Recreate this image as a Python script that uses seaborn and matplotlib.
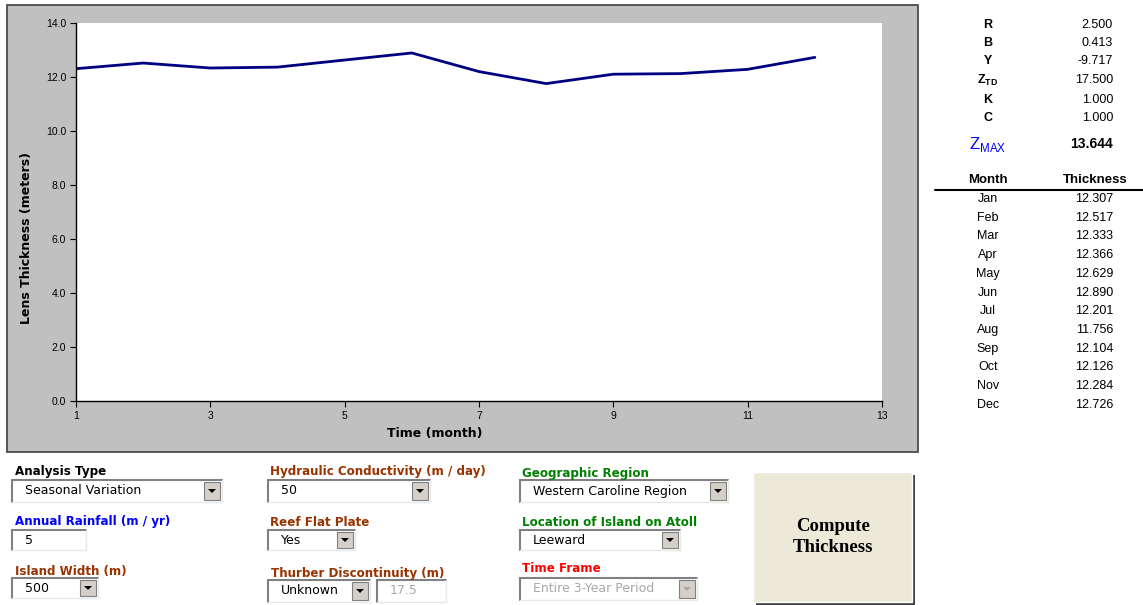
import matplotlib
matplotlib.use('Agg')
import matplotlib.pyplot as plt
import matplotlib.patches as mpatches
import seaborn as sns

W, H = 1143, 605

# chart data (thickness per month, meters)
month_num = [1, 2, 3, 4, 5, 6, 7, 8, 9, 10, 11, 12]
months = ['Jan', 'Feb', 'Mar', 'Apr', 'May', 'Jun', 'Jul', 'Aug', 'Sep', 'Oct', 'Nov', 'Dec']
thickness = [12.307, 12.517, 12.333, 12.366, 12.629, 12.890,
             12.201, 11.756, 12.104, 12.126, 12.284, 12.726]
x_ticks = [1, 3, 5, 7, 9, 11, 13]
y_ticks = [0, 2, 4, 6, 8, 10, 12, 14]

# model parameters shown on the right
param_labels = ['R', 'B', 'Y', r'Z$_{\mathregular{TD}}$', 'K', 'C']
param_values = ['2.500', '0.413', '-9.717', '17.500', '1.000', '1.000']
zmax_value = '13.644'

sns.set_theme(style='white')
plt.rcParams['font.family'] = ['Liberation Sans', 'DejaVu Sans']
plt.rcParams['text.color'] = 'black'
plt.rcParams['axes.labelcolor'] = 'black'
plt.rcParams['xtick.color'] = 'black'
plt.rcParams['ytick.color'] = 'black'


def fx(x):
    return x / W


def fy(y):
    return 1 - y / H


def rect(fig, x0, y0, x1, y1, **kw):
    r = mpatches.Rectangle((fx(x0), fy(y1)), (x1 - x0) / W, (y1 - y0) / H,
                           transform=fig.transFigure, **kw)
    fig.add_artist(r)
    return r


def hline(fig, x0, x1, y, **kw):
    fig.add_artist(plt.Line2D([fx(x0), fx(x1)], [fy(y), fy(y)], transform=fig.transFigure, **kw))


def vline(fig, x, y0, y1, **kw):
    fig.add_artist(plt.Line2D([fx(x), fx(x)], [fy(y0), fy(y1)], transform=fig.transFigure, **kw))


def sunken_box(fig, x0, y0, x1, y1):
    rect(fig, x0, y0, x1, y1, facecolor='white', edgecolor='none')
    hline(fig, x0, x1, y0, color='#808080', lw=1.5)
    vline(fig, x0, y0, y1, color='#808080', lw=1.5)
    hline(fig, x0, x1, y1, color='#E8E8E8', lw=1)
    vline(fig, x1, y0, y1, color='#E8E8E8', lw=1)


def combo(fig, x0, y0, x1, y1, text, disabled=False, button=True):
    sunken_box(fig, x0, y0, x1, y1)
    col = '#A8A8A8' if disabled else 'black'
    fig.text(fx(x0 + 13), fy((y0 + y1) / 2), text, fontsize=9, color=col,
             family='DejaVu Sans', va='center', ha='left')
    if button:
        bx0, bx1 = x1 - 18, x1 - 2
        rect(fig, bx0, y0 + 2, bx1, y1 - 2, facecolor='#D4D0C8',
             edgecolor='#808080', lw=0.8)
        cx, cy = (bx0 + bx1) / 2, (y0 + y1) / 2
        tri = mpatches.Polygon([(fx(cx - 4), fy(cy - 2)), (fx(cx + 4), fy(cy - 2)), (fx(cx), fy(cy + 2))],
                               closed=True, transform=fig.transFigure,
                               facecolor='#A8A8A8' if disabled else 'black', edgecolor='none')
        fig.add_artist(tri)


def label(fig, x, y, text, color):
    fig.text(fx(x), fy(y), text, fontsize=8.6, fontweight='bold', color=color,
             family='DejaVu Sans', va='center', ha='left')


fig = plt.figure(figsize=(W / 100, H / 100), dpi=100)
fig.patch.set_facecolor('white')

# grey chart panel
rect(fig, 7, 5, 918, 452, facecolor='#C0C0C0', edgecolor='#404040', lw=1.2, zorder=-1)

ax = fig.add_axes([fx(76), fy(401), (882 - 76) / W, (401 - 23) / H])
ax.set_facecolor('white')
sns.lineplot(x=month_num, y=thickness, ax=ax, color='#000080', lw=2)
ax.set_xlim(1, 13)
ax.set_ylim(0, 14)
ax.set_xticks(x_ticks)
ax.set_yticks(y_ticks)
ax.set_yticklabels([f'{v:.1f}' for v in y_ticks])
ax.tick_params(axis='both', labelsize=7.5, direction='out', length=4, width=0.8,
               colors='black', bottom=True, left=True, pad=3)
for s in ['top', 'right']:
    ax.spines[s].set_visible(False)
for s in ['left', 'bottom']:
    ax.spines[s].set_color('black')
    ax.spines[s].set_linewidth(1)
ax.set_xlabel('Time (month)', fontsize=9, fontweight='bold', family='DejaVu Sans', va='center')
ax.set_ylabel('Lens Thickness (meters)', fontsize=9, fontweight='bold', family='DejaVu Sans', va='center')
# Excel puts the titles a bit off-centre
ax.xaxis.set_label_coords(0.445, -0.087)
ax.yaxis.set_label_coords(-0.061, 0.43)

# parameter block
param_y = [25, 43, 61, 80, 100, 118]
for lab, val, y in zip(param_labels, param_values, param_y):
    fig.text(fx(988), fy(y), lab, fontsize=9, fontweight='bold', ha='center', va='center')
    fig.text(fx(1113), fy(y), val, fontsize=9, ha='right', va='center')
fig.text(fx(988), fy(144), r'Z$_{\mathregular{MAX}}$', fontsize=12, color='#0000FF',
         ha='center', va='center')
fig.text(fx(1113), fy(144), zmax_value, fontsize=10, fontweight='bold', ha='right', va='center')

# month table
fig.text(fx(988), fy(180), 'Month', fontsize=9.5, fontweight='bold', ha='center', va='center')
fig.text(fx(1095), fy(180), 'Thickness', fontsize=9.5, fontweight='bold', ha='center', va='center')
hline(fig, 935, 1143, 190, color='black', lw=1.5)
for i, (m, t) in enumerate(zip(months, thickness)):
    y = 199 + i * 18.7
    fig.text(fx(988), fy(y), m, fontsize=9, ha='center', va='center')
    fig.text(fx(1113), fy(y), f'{t:.3f}', fontsize=9, ha='right', va='center')

# input form
brown = '#993300'
green = '#008000'
label(fig, 15, 471, 'Analysis Type', 'black')
combo(fig, 12, 480, 222, 502, 'Seasonal Variation')
label(fig, 15, 522, 'Annual Rainfall (m / yr)', '#0000FF')
combo(fig, 12, 530, 86, 550, '5', button=False)
label(fig, 15, 571, 'Island Width (m)', brown)
combo(fig, 12, 578, 98, 598, '500')

label(fig, 270, 471, 'Hydraulic Conductivity (m / day)', brown)
combo(fig, 268, 480, 430, 502, '50')
label(fig, 270, 522, 'Reef Flat Plate', brown)
combo(fig, 268, 530, 355, 550, 'Yes')
label(fig, 271, 573, 'Thurber Discontinuity (m)', brown)
combo(fig, 268, 580, 370, 602, 'Unknown')
combo(fig, 377, 580, 446, 602, '17.5', disabled=True, button=False)

label(fig, 522, 473, 'Geographic Region', green)
combo(fig, 520, 480, 728, 502, 'Western Caroline Region')
label(fig, 522, 522, 'Location of Island on Atoll', green)
combo(fig, 520, 530, 680, 550, 'Leeward')
label(fig, 522, 569, 'Time Frame', '#FF0000')
combo(fig, 520, 578, 697, 600, 'Entire 3-Year Period', disabled=True)

# compute button
rect(fig, 756, 475, 915, 605, facecolor='#404040', edgecolor='none')
rect(fig, 753, 472, 912, 602, facecolor='#ECE9D8', edgecolor='#FFFFFF', lw=1)
fig.text(fx(833), fy(537), 'Compute\nThickness', fontsize=13.5, fontweight='bold',
         family='Liberation Serif', ha='center', va='center', linespacing=1.3)

fig.savefig('out.png', dpi=100)
